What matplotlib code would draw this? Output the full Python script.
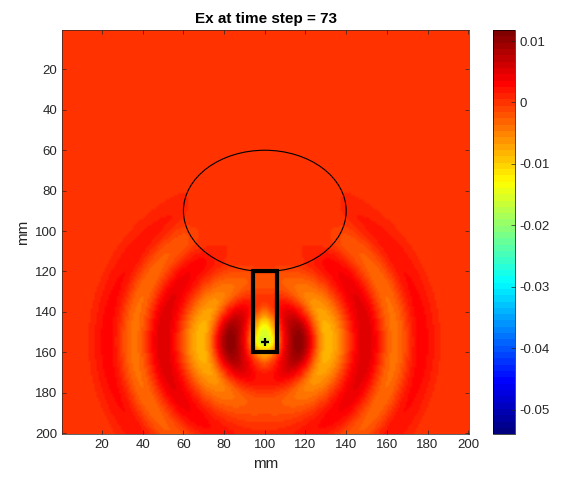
import numpy as np
import matplotlib
matplotlib.use('Agg')
import matplotlib.pyplot as plt
from matplotlib.colors import LinearSegmentedColormap
from matplotlib.patches import Ellipse, Rectangle

plt.rcParams['font.family'] = ['Liberation Sans', 'DejaVu Sans']
plt.rcParams['axes.unicode_minus'] = False

# --- values ---
GRID = 200                       # 200 x 200 cells, 1 mm each
source_xy = (100, 155)           # + marker (mm)
# radial ring profile of Ex around the source
ring_radius = [0, 17, 31, 50, 64, 77, 90]
ring_value = [-0.005, 0.0105, -0.0085, 0.0055, -0.004, 0.003, 0.0]
core_value = -0.015              # negative core at the feed
core_sigma = (4.5, 8.5)          # x / y spread of the core (mm)
inside_scatterer = 0.25          # field level kept inside the ellipse

ellipse_center = (100, 90)
ellipse_size = (80, 60)          # width, height (mm)
antenna_rect = (94, 120, 12, 40) # x, y, width, height (mm)

clim = (-0.054, 0.0118)
cbar_ticks = [0.01, 0, -0.01, -0.02, -0.03, -0.04, -0.05]
cbar_labels = ['0.01', '0', '-0.01', '-0.02', '-0.03', '-0.04', '-0.05']
axis_ticks = [20, 40, 60, 80, 100, 120, 140, 160, 180, 200]

# MATLAB style jet
matlab_jet = LinearSegmentedColormap('matlab_jet', {
    'red': [(0, 0, 0), (0.375, 0, 0), (0.625, 1, 1), (0.875, 1, 1), (1, 0.5, 0.5)],
    'green': [(0, 0, 0), (0.125, 0, 0), (0.375, 1, 1), (0.625, 1, 1),
              (0.875, 0, 0), (1, 0, 0)],
    'blue': [(0, 0.5, 0.5), (0.125, 1, 1), (0.375, 1, 1), (0.625, 0, 0), (1, 0, 0)],
}, N=64)


def ring_profile(r):
    # smooth (cosine) passage between the read ring extrema
    out = np.zeros_like(r)
    for i in range(len(ring_radius) - 1):
        r0, r1 = ring_radius[i], ring_radius[i + 1]
        v0, v1 = ring_value[i], ring_value[i + 1]
        m = (r >= r0) & (r < r1)
        t = (r[m] - r0) / (r1 - r0)
        s = (1 - np.cos(np.pi * t)) / 2
        out[m] = v0 + (v1 - v0) * s
    return out


def build_field():
    xs = np.arange(1, GRID + 1)
    X, Y = np.meshgrid(xs, xs)
    dx = X - source_xy[0]
    dy = Y - source_xy[1]
    r = np.hypot(dx, dy)
    cos2 = np.where(r > 0, dx ** 2 / np.maximum(r, 1e-9) ** 2, 1.0)
    weight = 0.25 + 0.75 * cos2
    field = ring_profile(r) * weight
    field += core_value * np.exp(-(dx ** 2 / (2 * core_sigma[0] ** 2)
                                   + (dy + 4) ** 2 / (2 * core_sigma[1] ** 2)))
    e = (((X - ellipse_center[0]) / (ellipse_size[0] / 2)) ** 2
         + ((Y - ellipse_center[1]) / (ellipse_size[1] / 2)) ** 2)
    att = inside_scatterer + (1 - inside_scatterer) / (1 + np.exp(-(e - 1) * 12))
    return field * att


Ex = build_field()

fig = plt.figure(figsize=(5.62, 4.84), dpi=100)
ax = fig.add_axes([0.111, 0.103, 0.724, 0.835])
cax = fig.add_axes([0.877, 0.103, 0.039, 0.835])

im = ax.imshow(Ex, cmap=matlab_jet, vmin=clim[0], vmax=clim[1],
               extent=[0.5, GRID + 0.5, GRID + 0.5, 0.5],
               interpolation='bilinear', aspect='auto')

ax.add_patch(Ellipse(ellipse_center, ellipse_size[0], ellipse_size[1],
                     fill=False, edgecolor='black', linewidth=0.8))
ax.add_patch(Rectangle(antenna_rect[:2], antenna_rect[2], antenna_rect[3],
                       fill=False, edgecolor='black', linewidth=3))
ax.plot(*source_xy, marker='+', color='black', markersize=6, mew=1.6)

ax.set_xlim(0.5, GRID + 0.5)
ax.set_ylim(GRID + 0.5, 0.5)
ax.set_xticks(axis_ticks)
ax.set_yticks(axis_ticks)
ax.tick_params(direction='in', top=True, right=True, labelsize=9.5,
               colors='#262626', length=3, width=0.5)
for s in ax.spines.values():
    s.set_linewidth(0.5)
    s.set_color('#262626')
ax.set_xlabel('mm', fontsize=11, color='#262626')
ax.set_ylabel('mm', fontsize=11, color='#262626')
ax.set_title('Ex at time step = 73', fontsize=11, fontweight='bold', pad=5)

cb = fig.colorbar(im, cax=cax)
cb.set_ticks(cbar_ticks)
cb.set_ticklabels(cbar_labels)
cb.ax.tick_params(direction='in', labelsize=9.5, colors='#262626',
                  length=3, width=0.5)
cb.outline.set_linewidth(0.5)

fig.savefig('out.png', dpi=100)
